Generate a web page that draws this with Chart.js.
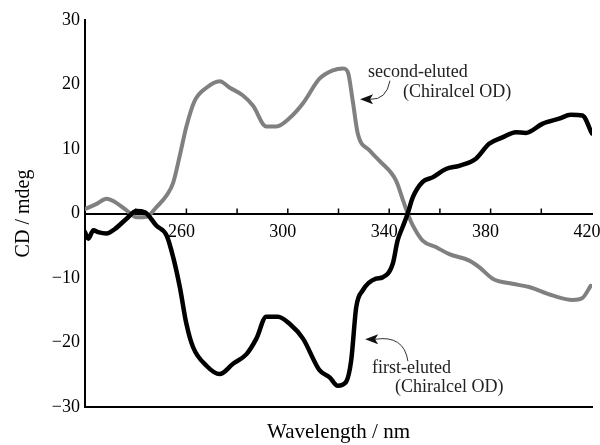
<!DOCTYPE html>
<html>
<head>
<meta charset="utf-8">
<script src="https://cdn.jsdelivr.net/npm/chart.js@4.4.0/dist/chart.umd.min.js"></script>
<style>
    html, body { margin: 0; padding: 0; background: #fff; }
</style>
</head>
<body>
<canvas id="cd_chart" width="600" height="445"></canvas>
<script>
// -------------------
// DATA
// -------------------
var first_wl = [220, 221.3, 223.3, 225.2, 228.5, 231.8, 236.4, 240.3, 243.6, 248.2, 252.2, 254.8, 257.4, 260, 262.6,
    267.9, 273.1, 278.4, 283.7, 287.6, 291.5, 296.1, 300.7, 306, 312.5, 316.5, 319.7, 323, 325, 327, 329.6, 334.8,
    337.4, 341.4, 343.3, 345.3, 347.3, 349.3, 353.2, 357.1, 362.4, 367.6, 374.2, 379.4, 384.7, 390, 393.9, 400.4,
    407, 411.6, 416.2, 420];
var first_cd = [-2.9, -3.9, -2.6, -2.9, -3.1, -2.4, -0.8, 0.4, 0.2, -1.9, -3.4, -6.8, -11.4, -17.1, -20.7,
    -23.6, -24.9, -23.3, -21.8, -19.4, -16, -16, -17.1, -19.4, -24.3, -25.4, -26.7, -26.1, -22.8, -14.5, -11.9, -10.1,
    -9.9, -7.8, -4.2, -2.1, 0, 2.5, 4.9, 5.6, 6.9, 7.4, 8.5, 10.8, 11.8, 12.6, 12.5, 13.9,
    14.7, 15.3, 15.2, 12.4];

var second_wl = [220, 224.6, 228.5, 231.8, 236.4, 240.3, 244.3, 248.2, 252.2, 254.8, 257.4, 260, 263.3, 267.9,
    273.1, 277.1, 282.3, 286.3, 291.5, 295.5, 300.7, 306, 312.5, 317.8, 321.7, 323.7, 325.6, 327.6, 332.2, 336.1,
    342.7, 345.5, 347.3, 349, 353.2, 358.4, 363.7, 371.6, 375.5, 380.8, 388.6, 395.2, 404.4, 412.3, 416.2, 419.5];
var second_cd = [0.7, 1.5, 2.3, 1.8, 0.5, -0.6, -0.5, 1.0, 2.8, 4.8, 9.0, 13.5, 17.5, 19.5,
    20.5, 19.5, 18.3, 16.7, 13.5, 13.5, 14.8, 17.1, 20.9, 22.2, 22.5, 21.9, 17.5, 12.4, 9.8, 8.2,
    5.1, 2.0, 0, -1.6, -4.2, -5.2, -6.3, -7.3, -8.3, -10.1, -10.9, -11.4, -12.7, -13.4, -13.1, -11.2];

var x_ticks_labelled = [260, 300, 340, 380, 420];

// -------------------
// ANNOTATIONS (in data units)
// -------------------
const notes = [
    { lines: ['second-eluted', '(Chiralcel OD)'], at: [[331.6, 21.9], [345.4, 18.8]],
      arrow: { from: [340.3, 20.6], ctrl: [339.0, 17.6], to: [328.5, 17.7] } },
    { lines: ['first-eluted', '(Chiralcel OD)'], at: [[333.2, -24.0], [342.3, -27.0]],
      arrow: { from: [347.4, -22.9], ctrl: [345.8, -18.8], to: [330.5, -19.5] } },
];

const serif = "'Liberation Serif', 'Times New Roman', serif";

function toPoints(xs, ys) {
    return xs.map(function(x, i) { return { x: x, y: ys[i] }; });
}

// little ticks pointing up from the zero axis + annotations
const extras = {
    id: 'extras',
    afterDraw: function(chart) {
        var ctx = chart.ctx;
        var xs = chart.scales.x;
        var ys = chart.scales.y;
        var y0 = ys.getPixelForValue(0);

        ctx.save();
        ctx.strokeStyle = '#000';
        ctx.lineWidth = 1.5;
        xs.ticks.forEach(function(t) {
            if (t.value <= xs.min || t.value >= xs.max) return;
            var px = xs.getPixelForValue(t.value);
            ctx.beginPath();
            ctx.moveTo(px, y0);
            ctx.lineTo(px, y0 - 5);
            ctx.stroke();
        });

        ctx.font = '18px ' + serif;
        ctx.textBaseline = 'middle';
        ctx.textAlign = 'left';
        notes.forEach(function(n) {
            ctx.fillStyle = '#222';
            n.lines.forEach(function(txt, i) {
                ctx.fillText(txt, xs.getPixelForValue(n.at[i][0]), ys.getPixelForValue(n.at[i][1]));
            });
            var a = n.arrow;
            var fx = xs.getPixelForValue(a.from[0]), fy = ys.getPixelForValue(a.from[1]);
            var cx = xs.getPixelForValue(a.ctrl[0]), cy = ys.getPixelForValue(a.ctrl[1]);
            var tx = xs.getPixelForValue(a.to[0]), ty = ys.getPixelForValue(a.to[1]);
            ctx.strokeStyle = '#333';
            ctx.lineWidth = 1;
            ctx.beginPath();
            ctx.moveTo(fx, fy);
            ctx.quadraticCurveTo(cx, cy, tx + 10, ty);
            ctx.stroke();
            ctx.beginPath();
            ctx.moveTo(tx, ty);
            ctx.lineTo(tx + 13, ty - 5);
            ctx.lineTo(tx + 10, ty);
            ctx.lineTo(tx + 13, ty + 5);
            ctx.closePath();
            ctx.fillStyle = '#111';
            ctx.fill();
        });
        ctx.restore();
    }
};

const options = {
    responsive: false,
    animation: false,
    layout: {
        padding: { top: 20, right: 8, left: 0, bottom: 0 },
    },
    plugins: {
        legend: { display: false },
        tooltip: { enabled: false },
    },
    elements: {
        point: { radius: 0 },
        line: { cubicInterpolationMode: 'monotone', borderCapStyle: 'round', borderJoinStyle: 'round' },
    },
    scales: {
        x: {
            type: 'linear',
            min: 220,
            max: 420,
            position: { y: 0 },
            grid: { display: false, drawTicks: false },
            border: { display: true, color: '#000', width: 2 },
            ticks: {
                stepSize: 20,
                padding: 8,
                labelOffset: -5,
                color: '#000',
                maxRotation: 0,
                autoSkip: false,
                font: { family: serif, size: 18 },
                callback: function(value) {
                    return x_ticks_labelled.indexOf(value) >= 0 ? String(value) : '';
                },
            },
            afterFit: function(scale) { scale.paddingLeft = 0; scale.paddingRight = 0; },
        },
        xb: {
            type: 'linear',
            min: 220,
            max: 420,
            position: 'bottom',
            grid: { display: false, drawTicks: false },
            border: { display: true, color: '#000', width: 2 },
            ticks: { display: false },
            title: {
                display: true,
                text: 'Wavelength / nm',
                color: '#000',
                padding: { top: 10, bottom: 0 },
                font: { family: serif, size: 21 },
            },
            afterFit: function(scale) { scale.height = 38; scale.paddingLeft = 0; scale.paddingRight = 0; },
        },
        y: {
            min: -30,
            max: 30,
            grid: { display: false, drawTicks: false },
            border: { display: true, color: '#000', width: 2 },
            ticks: {
                stepSize: 10,
                padding: 5,
                color: '#000',
                font: { family: serif, size: 18 },
                callback: function(value) {
                    return value < 0 ? '\u2212' + Math.abs(value) : String(value);
                },
            },
            title: {
                display: true,
                text: 'CD / mdeg',
                color: '#000',
                padding: { top: 12, bottom: 0 },
                font: { family: serif, size: 20 },
            },
            afterFit: function(scale) { scale.width = 85; },
        },
    },
};

var ctx = document.getElementById('cd_chart').getContext('2d');

var myChart = new Chart(ctx, {
    type: 'line',
    data: {
        datasets: [
            {
                label: 'first-eluted (Chiralcel OD)',
                data: toPoints(first_wl, first_cd),
                borderColor: '#000000',
                borderWidth: 4.5,
                fill: false,
            },
            {
                label: 'second-eluted (Chiralcel OD)',
                data: toPoints(second_wl, second_cd),
                borderColor: '#808080',
                borderWidth: 4,
                fill: false,
            },
        ],
    },
    options: options,
    plugins: [extras],
});
</script>
</body>
</html>
